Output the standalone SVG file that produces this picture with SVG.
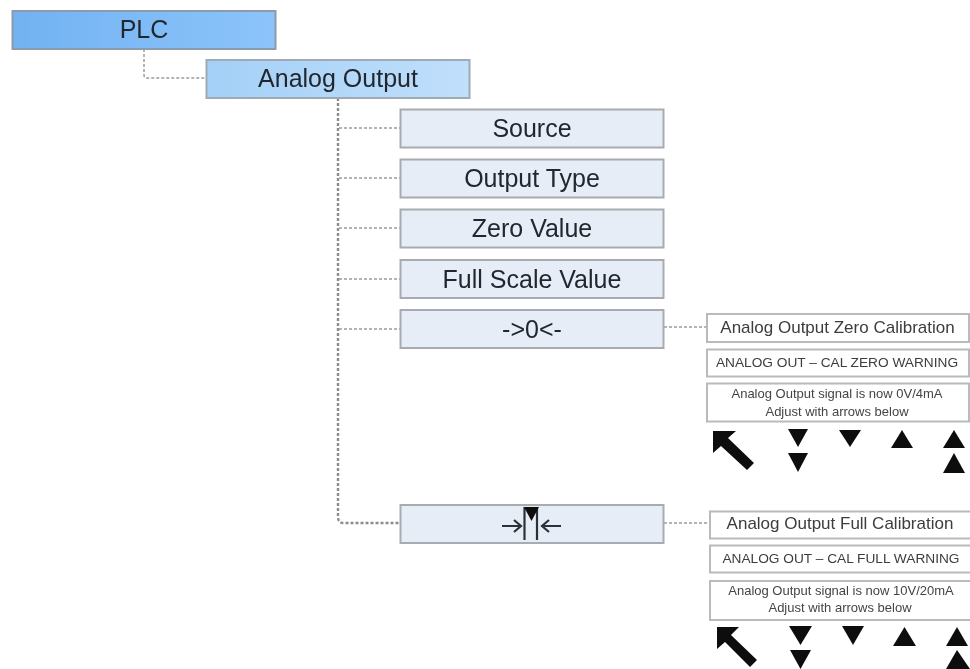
<svg xmlns="http://www.w3.org/2000/svg" width="970" height="669" viewBox="0 0 970 669">
<defs><filter id="soft" x="-5%" y="-5%" width="110%" height="110%"><feGaussianBlur stdDeviation="0.6"/></filter>
<linearGradient id="g1" x1="0" x2="1" y1="0" y2="0"><stop offset="0" stop-color="#72b2f2"/><stop offset="1" stop-color="#8cc4fa"/></linearGradient>
<linearGradient id="g2" x1="0" x2="1" y1="0" y2="0"><stop offset="0" stop-color="#a4d0f7"/><stop offset="1" stop-color="#c0dffb"/></linearGradient></defs>
<style>
text{font-family:"Liberation Sans",Arial,sans-serif;text-anchor:middle;fill:#22282e}
.m{font-size:25px}
.n rect{fill:#e6edf6;stroke:#a8acb0;stroke-width:2}
.w rect{fill:#fff;stroke:#b8babc;stroke-width:2}
.t{font-size:17px;fill:#3c3c3c}
.u{font-size:13.7px;fill:#3c3c3c}
.s{font-size:13px;fill:#444}
.c{fill:none;stroke:#9a9c9e;stroke-width:1.5;stroke-dasharray:3 2}
.v{stroke-width:2.4;stroke:#8a8c8e}
.a{fill:#111}
</style>
<rect width="970" height="669" fill="#fff"/>
<g id="connectors" filter="url(#soft)">
<path class="c" d="M144 49V75Q144 78 147 78H206"/>
<path class="c v" d="M338 98V517Q338 523 344 523H400"/>
<path class="c" d="M339 128H400M339 178H400M339 228H400M339 279H400M339 329H400M664 327H707M664 523H710"/>
</g>
<g filter="url(#soft)">
<g id="plc"><rect x="12.500" y="11" width="263" height="38" fill="url(#g1)" stroke="#8a9bac" stroke-width="2"/><text class="m" x="144" y="38">PLC</text></g>
<g id="analog-output"><rect x="206.500" y="60" width="263" height="38" fill="url(#g2)" stroke="#a0aab4" stroke-width="2"/><text class="m" x="338" y="87">Analog Output</text></g>
<g id="source" class="n"><rect x="400.500" y="109.500" width="263" height="38"/><text class="m" x="532" y="137">Source</text></g>
<g id="output-type" class="n"><rect x="400.500" y="159.500" width="263" height="38"/><text class="m" x="532" y="187">Output Type</text></g>
<g id="zero-value" class="n"><rect x="400.500" y="209.500" width="263" height="38"/><text class="m" x="532" y="237">Zero Value</text></g>
<g id="full-scale-value" class="n"><rect x="400.500" y="260" width="263" height="38"/><text class="m" x="532" y="288">Full Scale Value</text></g>
<g id="cal-zero" class="n"><rect x="400.500" y="310" width="263" height="38"/><text class="m" x="532" y="338">-&gt;0&lt;-</text></g>
<g id="cal-full" class="n"><rect x="400.500" y="505" width="263" height="38"/>
<path d="M502 526H520M514 520L521 526L514 532M524.500 540V508H537V540M561 526H543M549 520L542 526L549 532" fill="none" stroke="#2c3238" stroke-width="2.200"/><path class="a" d="M524 507H539L531.500 521Z"/></g>
<g id="zero-title" class="w"><rect x="707" y="314" width="262" height="28"/><text class="t" x="837.500" y="333">Analog Output Zero Calibration</text></g>
<g id="zero-warning" class="w"><rect x="707" y="349.500" width="262" height="27"/><text class="u" x="837" y="367">ANALOG OUT – CAL ZERO WARNING</text></g>
<g id="zero-message" class="w"><rect x="707" y="383.500" width="262" height="38"/><text class="s" x="837" y="398">Analog Output signal is now 0V/4mA</text><text class="s" x="837" y="416">Adjust with arrows below</text></g>
<g id="zero-arrows" class="a"><path d="M713 431H736L728 438L754 463L747 470L721 446L713 453Z"/><path d="M788 429H808L798 447ZM788 453H808L798 472ZM839 430H861L850 447ZM891 448H913L902 430ZM943 448H965L954 430ZM943 473H965L954 453Z"/></g>
<g id="full-title" class="w"><rect x="710" y="511.500" width="262" height="27"/><text class="t" x="840" y="529">Analog Output Full Calibration</text></g>
<g id="full-warning" class="w"><rect x="710" y="545.500" width="262" height="27"/><text class="u" x="841" y="563">ANALOG OUT – CAL FULL WARNING</text></g>
<g id="full-message" class="w"><rect x="710" y="581" width="262" height="39"/><text class="s" x="841" y="595">Analog Output signal is now 10V/20mA</text><text class="s" x="840" y="612">Adjust with arrows below</text></g>
<g id="full-arrows" class="a"><path d="M717 627H739L731 635L757 660L750 667L725 642L717 649Z"/><path d="M789 626H812L800.500 645ZM790 650H811L800.500 669ZM842 626H864L853 645ZM893 646H916L904.500 627ZM946 646H968L957 627ZM946 669H970L957 650Z"/></g>
</g>
</svg>
